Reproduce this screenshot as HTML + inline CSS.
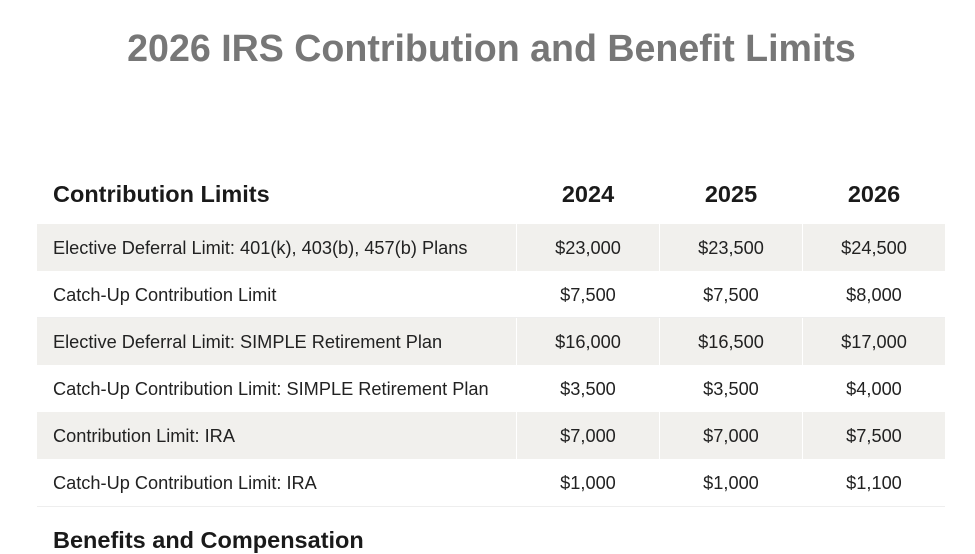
<!DOCTYPE html>
<html><head><style>
body{margin:0;width:975px;height:549px;overflow:hidden;background:#fff;font-family:"Liberation Sans",sans-serif;color:#222;position:relative}
.t{position:absolute;left:0;width:983px;text-align:center;top:27px;font-size:37.6px;font-weight:bold;color:#777}
.h{position:absolute;font-size:23.5px;font-weight:bold;color:#1a1a1a}
.row{position:absolute;left:37px;width:908px;height:47px;}
.row div{position:absolute;top:1px;height:47px;line-height:47px;font-size:18.2px}
.g div{background:#f1f0ed;top:0}
.c0{left:0;width:479px;padding-left:16px;box-sizing:border-box}
.c1{left:480px;width:142px;text-align:center}
.c2{left:623px;width:142px;text-align:center}
.c3{left:766px;width:142px;text-align:center}
.w{border-bottom:1px solid #eee;box-sizing:border-box}
</style></head><body>
<div class="t">2026 IRS Contribution and Benefit Limits</div>
<div class="h" style="left:53px;top:181px">Contribution Limits</div>
<div class="h" style="left:517px;width:142px;text-align:center;top:181px">2024</div>
<div class="h" style="left:660px;width:142px;text-align:center;top:181px">2025</div>
<div class="h" style="left:803px;width:142px;text-align:center;top:181px">2026</div>

<div class="row g" style="top:224px"><div class="c0" style="line-height:49px">Elective Deferral Limit: 401(k), 403(b), 457(b) Plans</div><div class="c1" style="line-height:49px">$23,000</div><div class="c2" style="line-height:49px">$23,500</div><div class="c3" style="line-height:49px">$24,500</div></div>
<div class="row w" style="top:271px"><div class="c0">Catch-Up Contribution Limit</div><div class="c1">$7,500</div><div class="c2">$7,500</div><div class="c3">$8,000</div></div>
<div class="row g" style="top:318px"><div class="c0" style="line-height:49px">Elective Deferral Limit: SIMPLE Retirement Plan</div><div class="c1" style="line-height:49px">$16,000</div><div class="c2" style="line-height:49px">$16,500</div><div class="c3" style="line-height:49px">$17,000</div></div>
<div class="row" style="top:365px"><div class="c0">Catch-Up Contribution Limit: SIMPLE Retirement Plan</div><div class="c1">$3,500</div><div class="c2">$3,500</div><div class="c3">$4,000</div></div>
<div class="row g" style="top:412px"><div class="c0" style="line-height:49px">Contribution Limit: IRA</div><div class="c1" style="line-height:49px">$7,000</div><div class="c2" style="line-height:49px">$7,000</div><div class="c3" style="line-height:49px">$7,500</div></div>
<div class="row" style="top:459px;border-bottom:1px solid #eee"><div class="c0">Catch-Up Contribution Limit: IRA</div><div class="c1">$1,000</div><div class="c2">$1,000</div><div class="c3">$1,100</div></div>
<div class="h" style="left:53px;top:527px">Benefits and Compensation</div>
</body></html>
